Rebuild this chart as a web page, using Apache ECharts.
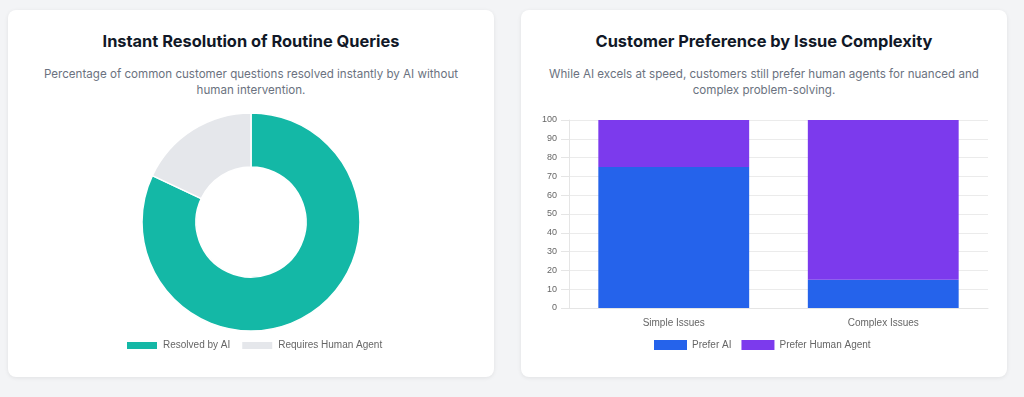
<!DOCTYPE html>
<html>
<head>
<meta charset="utf-8">
<script src="https://cdn.jsdelivr.net/npm/echarts@6/dist/echarts.min.js"></script>
<style>
	body {
		margin: 0;
		background: #f3f4f6;
		font-family: Inter, "Noto Sans", sans-serif;
	}
	.card {
		position: absolute;
		top: 10px;
		width: 486px;
		height: 367px;
		background: #fff;
		border-radius: 8px;
		box-shadow: 0 1px 4px rgba(0, 0, 0, 0.08);
	}
	.card h2 {
		position: absolute;
		top: 20px;
		left: 0;
		right: 0;
		margin: 0;
		text-align: center;
		font-size: 16.4px;
		line-height: 22px;
		font-weight: 700;
		color: #111827;
	}
	.card p {
		position: absolute;
		top: 57px;
		left: 20px;
		right: 20px;
		margin: 0;
		text-align: center;
		font-size: 11.6px;
		line-height: 15.5px;
		color: #6b7280;
	}
	.chart {
		position: absolute;
		left: 0;
		top: 100px;
		width: 486px;
		height: 267px;
	}
</style>
</head>
<body>
<div class="card" style="left:8px">
	<h2>Instant Resolution of Routine Queries</h2>
	<p>Percentage of common customer questions resolved instantly by AI without human intervention.</p>
	<div class="chart" id="div_pie"></div>
</div>
<div class="card" style="left:521px">
	<h2>Customer Preference by Issue Complexity</h2>
	<p>While AI excels at speed, customers still prefer human agents for nuanced and complex problem-solving.</p>
	<div class="chart" id="div_bar"></div>
</div>
<script>
// 数据
var pie_names = ['Resolved by AI', 'Requires Human Agent'];
var pie_values = [82, 18];
var pie_colors = ['#14b8a6', '#e5e7eb'];

var bar_categories = ['Simple Issues', 'Complex Issues'];
var prefer_ai = [75, 15];
var prefer_human = [25, 85];
var y_ticks = [0, 10, 20, 30, 40, 50, 60, 70, 80, 90, 100];

var label_font = '"Liberation Sans", Arial, sans-serif';

/**
 * @description 环形图
 */
var _chart_pie = echarts.init(document.getElementById('div_pie'));
_chart_pie.setOption({
	animation: false,
	legend: {
		left: 112,
		top: 225,
		itemWidth: 32,
		itemHeight: 9,
		itemGap: 10,
		icon: 'rect',
		textStyle: { fontFamily: label_font, fontSize: 10, color: '#666' },
		data: pie_names
	},
	series: [{
		type: 'pie',
		center: [243, 112],
		radius: [55, 109],
		startAngle: 90,
		clockwise: true,
		label: { show: false },
		labelLine: { show: false },
		itemStyle: { borderColor: '#fff', borderWidth: 1.5 },
		data: pie_names.map(function(n, i) {
			return { name: n, value: pie_values[i], itemStyle: { color: pie_colors[i] } };
		})
	}]
});

/**
 * @description 堆叠柱状图
 */
var _chart_bar = echarts.init(document.getElementById('div_bar'));
_chart_bar.setOption({
	animation: false,
	legend: {
		left: 128,
		top: 225,
		itemWidth: 33,
		itemHeight: 10,
		itemGap: 10,
		icon: 'rect',
		textStyle: { fontFamily: label_font, fontSize: 10, color: '#666' },
		data: ['Prefer AI', 'Prefer Human Agent']
	},
	grid: { left: 48, right: 19, top: 10, bottom: 69 },
	xAxis: {
		type: 'category',
		data: bar_categories,
		axisLine: { lineStyle: { color: '#e5e5e5' } },
		axisTick: { show: false },
		axisLabel: { fontFamily: label_font, fontSize: 10, color: '#666', margin: 10 },
		splitLine: { show: false }
	},
	yAxis: {
		type: 'value',
		min: y_ticks[0],
		max: y_ticks[y_ticks.length - 1],
		interval: 10,
		axisLine: { show: true, lineStyle: { color: '#e5e5e5' } },
		axisTick: { show: true, length: 8, lineStyle: { color: '#e5e5e5' } },
		axisLabel: { fontFamily: label_font, fontSize: 9, color: '#666', margin: 12 },
		splitLine: { lineStyle: { color: '#ebebeb' } }
	},
	series: [
		{
			name: 'Prefer AI',
			type: 'bar',
			stack: 'pref',
			barWidth: '72%',
			itemStyle: { color: '#2563eb' },
			data: prefer_ai
		},
		{
			name: 'Prefer Human Agent',
			type: 'bar',
			stack: 'pref',
			barWidth: '72%',
			itemStyle: { color: '#7c3aed' },
			data: prefer_human
		}
	]
});
</script>
</body>
</html>
